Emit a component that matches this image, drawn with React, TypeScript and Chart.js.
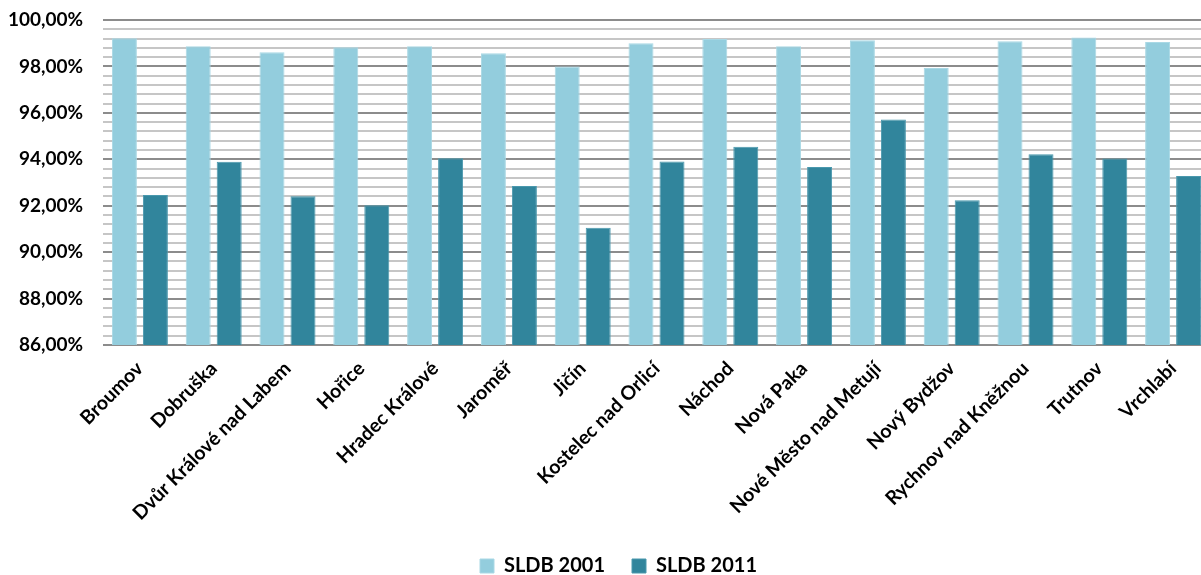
import React, { useEffect, useRef } from "react";
import { Chart, registerables } from "chart.js";

Chart.register(...registerables);

const categories = [
  "Broumov",
  "Dobruška",
  "Dvůr Králové nad Labem",
  "Hořice",
  "Hradec Králové",
  "Jaroměř",
  "Jičín",
  "Kostelec nad Orlicí",
  "Náchod",
  "Nová Paka",
  "Nové Město nad Metují",
  "Nový Bydžov",
  "Rychnov nad Kněžnou",
  "Trutnov",
  "Vrchlabí",
];

const sldb2001 = [99.21, 98.87, 98.61, 98.83, 98.87, 98.57, 98.0, 99.0, 99.18, 98.87, 99.13, 97.93, 99.09, 99.25, 99.05];
const sldb2011 = [92.46, 93.89, 92.41, 92.02, 94.05, 92.85, 91.05, 93.9, 94.54, 93.67, 95.71, 92.24, 94.22, 94.03, 93.28];

const seriesNames = ["SLDB 2001", "SLDB 2011"];
const yMin = 86;
const yMax = 100;
const yMinorStep = 0.4;
const yMajorStep = 2;

const FONT = "Lato, 'Open Sans', sans-serif";

const isMajor = (v: number) => Math.round(v * 10) % Math.round(yMajorStep * 10) === 0;

const legendShift = {
  id: "legendShift",
  beforeDraw(chart: any) {
    const lg = chart.legend;
    if (lg && !lg._shifted) {
      lg.left += 13.5;
      lg.right += 13.5;
      lg._shifted = true;
    }
  },
};

export default function App() {
  const ref = useRef<HTMLCanvasElement | null>(null);

  useEffect(() => {
    if (!ref.current) return;
    const chart = new Chart(ref.current, {
      type: "bar",
      data: {
        labels: categories,
        datasets: [
          {
            label: seriesNames[0],
            data: sldb2001,
            backgroundColor: "#93CDDD",
            borderColor: "#A9D8E5",
            borderWidth: 1,
            categoryPercentage: 0.84,
            barPercentage: 0.806,
          },
          {
            label: seriesNames[1],
            data: sldb2011,
            backgroundColor: "#31859C",
            borderColor: "#4A98AD",
            borderWidth: 1,
            categoryPercentage: 0.84,
            barPercentage: 0.806,
          },
        ],
      },
      options: {
        responsive: false,
        animation: false,
        layout: { padding: { left: 0, right: 27, top: 20, bottom: 0 } },
        plugins: {
          tooltip: { enabled: false },
          legend: {
            position: "bottom",
            labels: {
              boxWidth: 14,
              boxHeight: 14,
              padding: 27,
              color: "#000",
              font: { family: FONT, size: 20, weight: "bold" },
            },
          },
        },
        scales: {
          x: {
            grid: { display: false, drawTicks: false },
            border: { display: false },
            ticks: {
              autoSkip: false,
              maxRotation: 45,
              minRotation: 45,
              padding: 12,
              color: "#000",
              font: { family: FONT, size: 19.5, weight: "bold" },
            },
            afterFit: (scale: any) => {
              scale.height = 184;
              scale.paddingLeft = 0;
              scale.paddingRight = 0;
            },
          },
          y: {
            min: yMin,
            max: yMax,
            border: { display: false },
            grid: {
              drawTicks: false,
              lineWidth: 2,
              color: (ctx: any) => {
                const v = ctx.tick ? ctx.tick.value : 0;
                return isMajor(v) ? "#8C8C8C" : "#C6C6C6";
              },
            },
            afterBuildTicks: (scale: any) => {
              const ticks: any[] = [];
              const n = Math.round((yMax - yMin) / yMinorStep);
              for (let i = 0; i <= n; i++) {
                ticks.push({ value: Math.round((yMin + i * yMinorStep) * 100) / 100 });
              }
              scale.ticks = ticks;
            },
            ticks: {
              autoSkip: false,
              padding: 20,
              color: "#000",
              font: { family: FONT, size: 19, weight: "bold" },
              callback: (value: any) => {
                const v = Number(value);
                if (!isMajor(v)) return "";
                return v.toFixed(2).replace(".", ",") + "%";
              },
            },
            afterFit: (scale: any) => {
              scale.width = 103;
              scale.paddingTop = 0;
              scale.paddingBottom = 0;
            },
          },
        },
      },
      plugins: [legendShift],
    });
    return () => chart.destroy();
  }, []);

  return (
    <div
      style={{
        position: "absolute",
        left: 0,
        top: 0,
        width: 1201,
        height: 575,
        overflow: "hidden",
        background: "#fff",
      }}
    >
      <canvas ref={ref} width={1237} height={586} style={{ display: "block" }} />
    </div>
  );
}
